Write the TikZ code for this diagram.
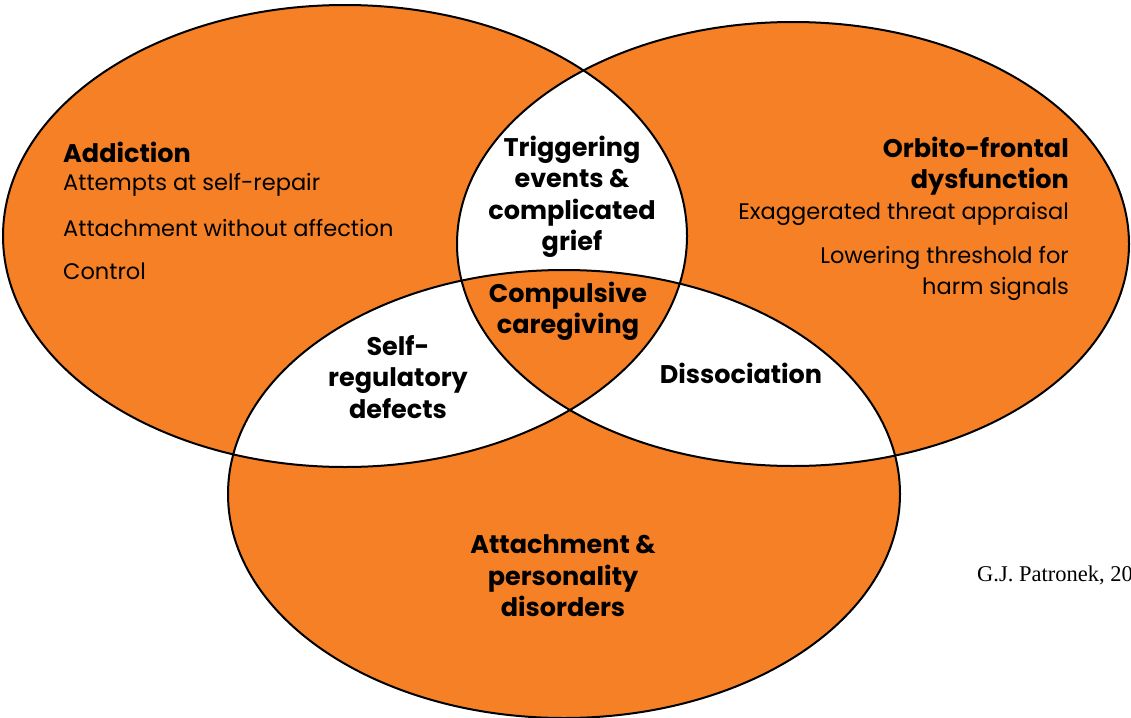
\documentclass[tikz,border=0pt]{standalone}
\usepackage{fontspec}
\setmainfont{Poppins}
\newfontfamily\creditfont{Liberation Serif}
\definecolor{vorange}{RGB}{245,128,38}
\tikzset{
  setshape/.style={line width=2pt, draw=black},
  boldlbl/.style={font=\bfseries\fontsize{25.5}{31.5}\selectfont, align=center, inner sep=0pt},
  plainlbl/.style={font=\fontsize{22.5}{31.5}\selectfont, inner sep=0pt},
  headlbl/.style={font=\bfseries\fontsize{25.5}{31.5}\selectfont, inner sep=0pt}
}
\begin{document}
\begin{tikzpicture}[x=1pt,y=-1pt]
\useasboundingbox (0,0) rectangle (1131,717);
% fills (even-odd gives orange for 1 and 3 overlaps, white for 2)
\path[fill=vorange, even odd rule]
  (345,236) ellipse [x radius=342, y radius=231]
  (793,244) ellipse [x radius=336, y radius=222]
  (564,494) ellipse [x radius=336, y radius=224];
\draw[setshape] (345,236) ellipse [x radius=342, y radius=231];
\draw[setshape] (793,244) ellipse [x radius=336, y radius=222];
\draw[setshape] (564,494) ellipse [x radius=336, y radius=224];
% left set
\node[headlbl, anchor=west] (addiction) at (63,152) {Addiction};
\node[plainlbl, anchor=west] (selfrepair) at (63,185) {Attempts at self-repair};
\node[plainlbl, anchor=west] (attach) at (63,228) {Attachment without affection};
\node[plainlbl, anchor=west] (control) at (63,271) {Control};
% right set
\node[headlbl, anchor=east, align=right] (orbito) at (1069,166) {Orbito-frontal\\dysfunction};
\node[plainlbl, anchor=east] (threat) at (1069,214) {Exaggerated threat appraisal};
\node[plainlbl, anchor=east, align=right] (lowering) at (1069,273.5) {Lowering threshold for\\harm signals};
% intersections
\node[boldlbl] (trigger) at (572,197) {Triggering\\events \&\\complicated\\grief};
\node[boldlbl] (compulsive) at (568,311.5) {Compulsive\\caregiving};
\node[boldlbl] (selfreg) at (398,377) {Self-\\regulatory\\defects};
\node[boldlbl] (dissoc) at (741,373) {Dissociation};
\node[boldlbl] (personality) at (563,576) {Attachment \&\\personality\\disorders};
% credit
\node[font=\creditfont\fontsize{22.5}{26}\selectfont, anchor=west, inner sep=0pt] (credit) at (977,575) {G.J. Patronek, 20};
\end{tikzpicture}
\end{document}
